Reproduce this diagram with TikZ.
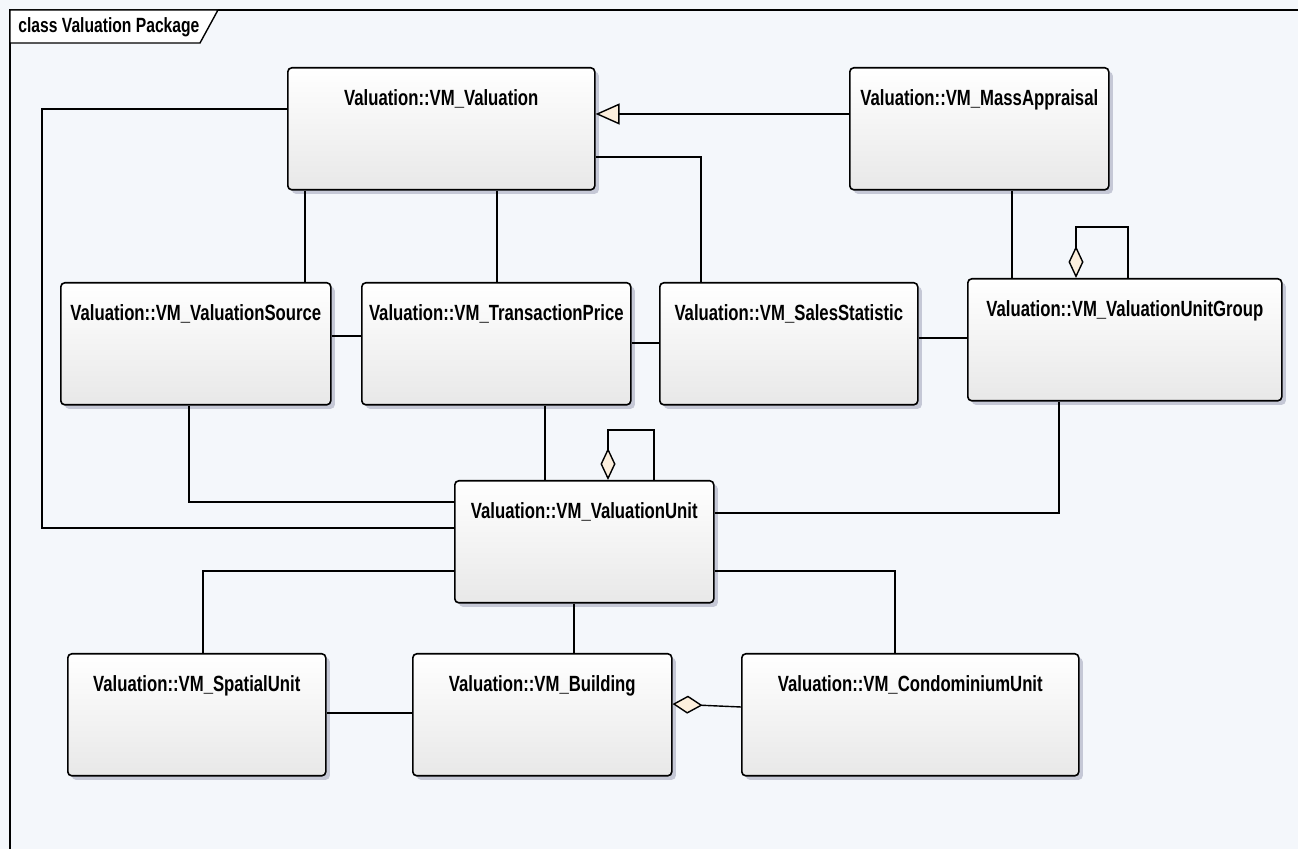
\documentclass[tikz,border=0pt]{standalone}
\usepackage{fontspec}
\newfontfamily\umlfont[FakeStretch=0.76]{Liberation Sans}
\usetikzlibrary{arrows.meta,shadows}
\definecolor{bgcol}{RGB}{244,247,251}
\definecolor{boxbottom}{RGB}{232,232,232}
\definecolor{shadowcol}{RGB}{197,200,214}
\definecolor{cream}{RGB}{252,239,221}
\begin{document}
\begin{tikzpicture}[x=0.5pt, y=-0.5pt,
    umlclass/.style={rectangle, draw, line width=0.8pt, rounded corners=2pt,
      anchor=north west, top color=white, bottom color=boxbottom,
      drop shadow={shadow xshift=2pt, shadow yshift=-2pt, fill=shadowcol, opacity=1},
      inner ysep=0pt, text height=19pt, text depth=42pt,
      font=\umlfont\bfseries\fontsize{11}{13}\selectfont},
    link/.style={draw, line width=0.7pt},
    aggr/.style={{Diamond[fill=cream, length=16pt, width=7.5pt]}-}]
  \useasboundingbox (0,0) rectangle (1298,849);
  \fill[bgcol] (0,0) rectangle (1298,849);

  % Frame
  \draw[line width=0.7pt] (10,849) -- (10,10) -- (1298,10);
  \draw[line width=0.7pt, fill=white] (10,10) -- (218,10) -- (200,43) -- (10,43) -- cycle;
  \node[anchor=west, inner sep=0pt, font=\umlfont\bfseries\fontsize{10.3}{12}\selectfont] (frame) at (18,27) {class Valuation Package};

  % Classes
  \node[umlclass, minimum width=153.5pt] (val) at (287,67) {Valuation::VM\_Valuation};
  \node[umlclass, minimum width=129.5pt] (mass) at (849,67) {Valuation::VM\_MassAppraisal};
  \node[umlclass, minimum width=135pt] (source) at (60,282) {Valuation::VM\_ValuationSource};
  \node[umlclass, minimum width=134.5pt] (tp) at (361,282) {Valuation::VM\_TransactionPrice};
  \node[umlclass, minimum width=129pt] (sales) at (659,282) {Valuation::VM\_SalesStatistic};
  \node[umlclass, minimum width=157pt] (ug) at (967,278) {Valuation::VM\_ValuationUnitGroup};
  \node[umlclass, minimum width=129.5pt] (vu) at (454,480) {Valuation::VM\_ValuationUnit};
  \node[umlclass, minimum width=129pt] (spatial) at (67,653) {Valuation::VM\_SpatialUnit};
  \node[umlclass, minimum width=129.5pt] (building) at (412,653) {Valuation::VM\_Building};
  \node[umlclass, minimum width=168.5pt] (condo) at (741,653) {Valuation::VM\_CondominiumUnit};

  % Generalization
  \draw[link, -{Triangle[open, fill=cream, length=12pt, width=10.5pt]}] (mass.west |- 0,114) -- (val.east |- 0,114);

  % Associations
  \draw[link] (val.east |- 0,157) -| (sales.north -| 701,0);
  \draw[link] (val.south -| 305,0) -- (source.north -| 305,0);
  \draw[link] (val.south -| 497,0) -- (tp.north -| 497,0);
  \draw[link] (val.west |- 0,109) -| (42,528) -- (vu.west |- 0,528);
  \draw[link] (source.east |- 0,336) -- (tp.west |- 0,336);
  \draw[link] (tp.east |- 0,343) -- (sales.west |- 0,343);
  \draw[link] (sales.east |- 0,338) -- (ug.west |- 0,338);
  \draw[link] (mass.south -| 1012,0) -- (ug.north -| 1012,0);
  \draw[link] (source.south -| 189,0) |- (vu.west |- 0,502);
  \draw[link] (tp.south -| 545,0) -- (vu.north -| 545,0);
  \draw[link] (ug.south -| 1059,0) |- (vu.east |- 0,513);
  \draw[link] (vu.west |- 0,571) -| (spatial.north -| 203,0);
  \draw[link] (vu.south -| 574,0) -- (building.north -| 574,0);
  \draw[link] (vu.east |- 0,571) -| (condo.north -| 895,0);
  \draw[link] (spatial.east |- 0,713) -- (building.west |- 0,713);

  % Aggregations
  \draw[link, aggr] (ug.north -| 1076,0) -- (1076,227) -| (ug.north -| 1128,0);
  \draw[link, aggr] (vu.north -| 608,0) -- (608,430) -| (vu.north -| 654,0);
  \draw[link, {Diamond[fill=cream, length=15pt, width=9pt]}-] (building.east |- 0,704) -- (condo.west |- 0,707);
\end{tikzpicture}
\end{document}
